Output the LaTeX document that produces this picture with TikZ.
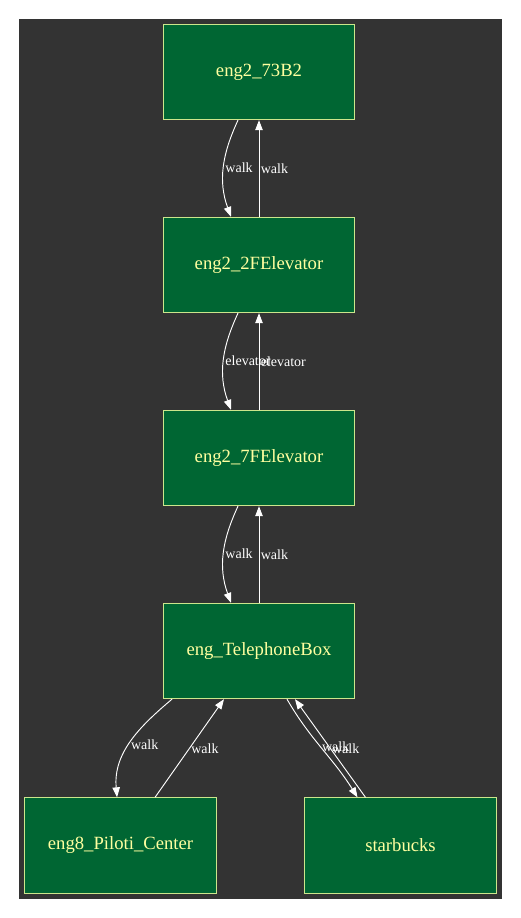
\documentclass[tikz,border=0pt]{standalone}
\usepackage{fontspec}
\setmainfont{Liberation Serif}
\usetikzlibrary{arrows.meta,positioning}
\definecolor{bgdark}{HTML}{333333}
\definecolor{placefill}{HTML}{006633}
\definecolor{placeline}{HTML}{CCE68C}
\definecolor{placetext}{HTML}{FFFFA0}

\begin{document}
\begin{tikzpicture}[x=0.75pt, y=-0.75pt,
  >={Triangle[length=7.5pt, width=5.6pt]},
  place/.style={draw=placeline, fill=placefill, text=placetext, line width=0.75pt, minimum width=143.5pt, minimum height=71.5pt, font=\fontsize{14}{16}\selectfont},
  lbl/.style={text=white, font=\fontsize{10.5}{12}\selectfont, inner sep=1pt, anchor=west},
  walkarr/.style={->, draw=white, line width=0.7pt}]
\useasboundingbox (0,0) rectangle (521,918);
\fill[bgdark] (19,19) rectangle (502,899);
\node[place] (b73) at (259,72) {eng2\_73B2};
\node[place] (f2elev) at (259,265) {eng2\_2FElevator};
\node[place] (f7elev) at (259,458) {eng2\_7FElevator};
\node[place] (telbox) at (259,651) {eng\_TelephoneBox};
\node[place] (piloti) at (120.5,845.5) {eng8\_Piloti\_Center};
\node[place] (sbux) at (400.5,845.5) {starbucks};
% vertical pairs
\draw[walkarr] ([xshift=-15.75pt]b73.south) to[out=-115, in=110] node[lbl] {walk} ([xshift=-21pt]f2elev.north);
\draw[walkarr] (f2elev) -- node[lbl] {walk} (b73);
\draw[walkarr] ([xshift=-15.75pt]f2elev.south) to[out=-115, in=110] node[lbl] {elevator} ([xshift=-21pt]f7elev.north);
\draw[walkarr] (f7elev) -- node[lbl] {elevator} (f2elev);
\draw[walkarr] ([xshift=-15.75pt]f7elev.south) to[out=-115, in=110] node[lbl] {walk} ([xshift=-21pt]telbox.north);
\draw[walkarr] (telbox) -- node[lbl] {walk} (f7elev);
% bottom row
\draw[walkarr] ([xshift=-65.25pt]telbox.south) to[out=-140, in=95] node[lbl, pos=0.52] {walk} ([xshift=-2.6pt]piloti.north);
\draw[walkarr] ([xshift=25.9pt]piloti.north) -- node[lbl] {walk} ([xshift=-26.25pt]telbox.south);
\draw[walkarr] ([xshift=21pt]telbox.south) to[out=-60, in=122] node[lbl, pos=0.48] {walk} ([xshift=-32.25pt]sbux.north);
\draw[walkarr] ([xshift=-26.25pt]sbux.north) -- node[lbl] {walk} ([xshift=27pt]telbox.south);
\end{tikzpicture}
\end{document}
